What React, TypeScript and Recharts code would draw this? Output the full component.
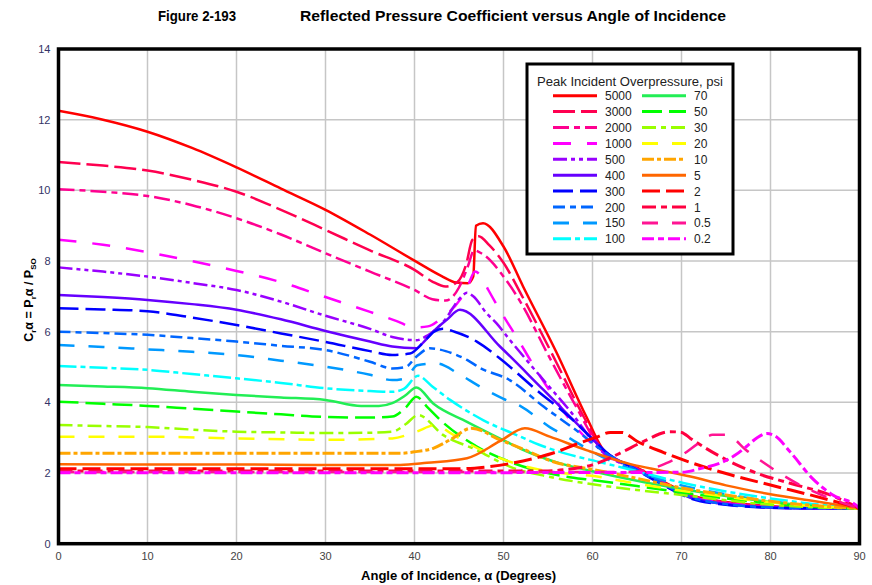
import React from 'react';
import { LineChart, Line, XAxis, YAxis, CartesianGrid } from 'recharts';

// angle of incidence (deg) / reflected pressure coefficient pairs
const X_TICKS = [0, 10, 20, 30, 40, 50, 60, 70, 80, 90];
const Y_TICKS = [0, 2, 4, 6, 8, 10, 12, 14];

const p5000 = [[0, 12.25], [5, 12.0], [10, 11.66], [15, 11.2], [20, 10.65], [25, 10.05], [30, 9.45], [35, 8.75], [40, 8.01], [43, 7.58], [44.7, 7.39], [46, 7.37], [46.6, 7.56], [46.9, 9.0], [47.7, 9.07], [50, 8.41], [52.2, 7.28], [56, 5.39], [59.3, 3.6], [61.4, 2.6], [65, 2.15], [68, 1.75], [71, 1.38], [75, 1.18], [80, 1.06], [85, 1.01], [90, 1.0]];
const p3000 = [[0, 10.8], [5, 10.7], [10, 10.56], [15, 10.3], [20, 9.96], [25, 9.45], [30, 8.88], [35, 8.3], [40, 7.75], [42, 7.42], [43.5, 7.28], [44.8, 7.4], [45.8, 7.9], [46.5, 8.6], [47.2, 8.7], [48.4, 8.45], [50, 7.95], [52, 7.05], [56, 5.1], [59, 3.6], [61.3, 2.6], [65, 2.13], [68, 1.73], [71, 1.36], [75, 1.17], [80, 1.05], [85, 1.01], [90, 1.0]];
const p2000 = [[0, 10.03], [5, 9.96], [10, 9.84], [15, 9.58], [20, 9.21], [25, 8.75], [30, 8.22], [35, 7.7], [40, 7.18], [42, 6.92], [43.5, 6.88], [45, 7.25], [46, 7.85], [46.7, 8.3], [47.5, 8.22], [50.3, 7.46], [52, 6.8], [55, 5.35], [58, 3.95], [61.2, 2.6], [65, 2.12], [68, 1.72], [71, 1.35], [75, 1.16], [80, 1.05], [85, 1.0], [90, 1.0]];
const p1000 = [[0, 8.6], [5, 8.46], [10, 8.25], [15, 8.0], [20, 7.72], [25, 7.4], [30, 6.98], [35, 6.56], [38, 6.3], [40, 6.12], [41.5, 6.15], [43.2, 6.42], [45.1, 6.9], [46, 7.3], [46.8, 7.7], [47.4, 7.6], [48.3, 7.18], [49.6, 6.61], [51.9, 5.67], [53, 5.2], [55, 4.4], [57.8, 3.4], [61, 2.6], [65, 2.1], [68, 1.7], [71, 1.34], [75, 1.15], [80, 1.04], [85, 1.0], [90, 1.0]];
const p500 = [[0, 7.82], [5, 7.7], [10, 7.56], [15, 7.38], [20, 7.18], [25, 6.85], [30, 6.45], [35, 6.08], [37.5, 5.85], [40.2, 5.76], [41.5, 5.9], [43.3, 6.3], [45.3, 7.0], [45.9, 7.1], [46.6, 7.0], [48.1, 6.52], [49.2, 6.24], [50.7, 5.77], [54.5, 4.63], [57.5, 3.75], [61, 2.62], [65, 2.08], [68, 1.68], [71, 1.32], [75, 1.13], [80, 1.03], [85, 1.0], [90, 1.0]];
const p400 = [[0, 7.04], [5, 6.98], [10, 6.9], [15, 6.78], [20, 6.62], [25, 6.35], [30, 6.02], [35, 5.72], [37.5, 5.58], [40.2, 5.53], [41, 5.7], [42.1, 6.0], [43.6, 6.33], [45.1, 6.62], [49.6, 5.58], [54.5, 4.35], [60.5, 2.84], [61.5, 2.6], [65, 2.1], [68, 1.68], [71, 1.3], [75, 1.12], [80, 1.02], [85, 1.0], [90, 1.0]];
const p300 = [[0, 6.66], [5, 6.63], [10, 6.58], [15, 6.4], [20, 6.19], [25, 5.95], [30, 5.71], [35, 5.45], [37.5, 5.34], [39.5, 5.38], [41, 5.7], [42.2, 6.0], [43.2, 6.08], [44.5, 6.0], [47, 5.72], [49.6, 5.24], [53.7, 4.35], [57.8, 3.5], [60.5, 2.84], [61.5, 2.6], [65, 2.08], [68, 1.65], [71, 1.28], [75, 1.1], [80, 1.02], [85, 1.0], [90, 1.0]];
const p200 = [[0, 6.0], [5, 5.96], [10, 5.91], [15, 5.82], [20, 5.72], [25, 5.6], [30, 5.48], [35, 5.15], [37.5, 4.96], [39, 5.0], [40.2, 5.29], [41.7, 5.53], [43.5, 5.45], [45.9, 5.2], [47.4, 4.97], [50.7, 4.63], [54.5, 3.88], [58.6, 3.13], [61.3, 2.6], [65, 2.08], [68, 1.68], [71, 1.32], [75, 1.12], [80, 1.03], [85, 1.0], [90, 1.0]];
const p150 = [[0, 5.62], [5, 5.57], [10, 5.5], [15, 5.43], [20, 5.34], [25, 5.18], [30, 5.01], [35, 4.78], [37.5, 4.63], [39, 4.68], [40.3, 5.05], [42.5, 5.1], [45, 4.8], [47.4, 4.44], [50, 4.1], [52, 3.88], [55.2, 3.3], [57.4, 2.99], [60, 2.6], [62, 2.35], [65, 2.05], [70, 1.65], [75, 1.4], [80, 1.2], [85, 1.08], [90, 1.0]];
const p100 = [[0, 5.03], [5, 4.98], [10, 4.92], [15, 4.8], [20, 4.68], [25, 4.55], [30, 4.4], [35, 4.32], [37.5, 4.3], [38.8, 4.38], [40.4, 4.75], [42, 4.45], [44, 4.07], [47.7, 3.5], [51.9, 3.03], [54, 2.8], [57, 2.55], [61, 2.3], [65, 2.05], [70.2, 1.72], [75, 1.48], [80, 1.28], [85, 1.12], [90, 1.0]];
const p70 = [[0, 4.49], [5, 4.45], [10, 4.4], [15, 4.3], [20, 4.21], [25, 4.14], [30, 4.07], [34, 3.9], [36, 3.9], [37.5, 3.98], [39, 4.2], [40.2, 4.42], [42.1, 3.97], [45.9, 3.45], [50.7, 2.84], [52, 2.68], [56, 2.3], [60, 2.05], [65, 1.78], [70, 1.55], [75, 1.35], [80, 1.18], [85, 1.07], [90, 1.0]];
const p50 = [[0, 4.02], [5, 3.96], [10, 3.9], [15, 3.82], [20, 3.74], [25, 3.66], [30, 3.59], [35, 3.57], [37.5, 3.6], [39, 3.85], [40.2, 4.16], [41.5, 3.85], [42.9, 3.5], [47, 2.75], [51.1, 2.28], [57, 1.9], [60, 1.8], [65, 1.63], [70, 1.45], [75, 1.28], [80, 1.13], [85, 1.04], [90, 1.0]];
const p30 = [[0, 3.36], [5, 3.33], [10, 3.3], [15, 3.23], [20, 3.17], [25, 3.15], [30, 3.13], [35, 3.14], [37.5, 3.17], [39, 3.38], [40.4, 3.64], [43.2, 3.08], [47, 2.65], [50.7, 2.18], [55, 1.9], [59.3, 1.71], [65, 1.52], [70, 1.38], [75, 1.23], [80, 1.1], [85, 1.03], [90, 1.0]];
const p20 = [[0, 3.03], [10, 3.03], [20, 2.98], [30, 2.94], [37.5, 2.98], [40.2, 3.17], [42.4, 3.36], [44.1, 3.12], [47.5, 2.65], [51.2, 2.28], [55, 2.05], [60.5, 1.9], [65, 1.7], [70, 1.5], [75, 1.33], [80, 1.17], [85, 1.06], [90, 1.0]];
const p10 = [[0, 2.56], [10, 2.56], [20, 2.56], [30, 2.56], [38.4, 2.56], [40, 2.6], [42.1, 2.7], [44, 2.94], [46.4, 3.27], [49.6, 2.94], [52, 2.7], [55.6, 2.32], [60, 2.1], [65, 1.85], [70.2, 1.57], [75, 1.38], [80, 1.2], [85, 1.08], [90, 1.0]];
const p5 = [[0, 2.25], [10, 2.24], [20, 2.24], [30, 2.23], [38.4, 2.23], [41.4, 2.29], [45.9, 2.42], [49.6, 2.9], [52.4, 3.27], [55.2, 3.03], [59.3, 2.65], [64.6, 2.23], [67.5, 2.08], [71, 1.9], [75, 1.65], [80, 1.4], [85, 1.2], [90, 1.0]];
const p2 = [[0, 2.12], [20, 2.12], [40, 2.12], [45, 2.12], [48, 2.17], [51, 2.28], [54, 2.45], [56, 2.6], [58, 2.8], [60.5, 3.02], [62, 3.15], [63.3, 3.15], [65, 2.9], [68, 2.58], [71, 2.3], [75.5, 1.95], [80, 1.66], [86, 1.28], [90, 1.0]];
const p1 = [[0, 2.06], [20, 2.06], [40, 2.06], [55, 2.06], [57, 2.1], [60, 2.23], [63, 2.55], [65.7, 2.89], [68.7, 3.17], [70, 3.15], [71, 2.98], [74.7, 2.42], [78.4, 2.0], [82.2, 1.71], [86.7, 1.38], [90, 1.0]];
const p05 = [[0, 2.03], [20, 2.03], [40, 2.03], [64, 2.03], [66, 2.08], [68.3, 2.28], [70, 2.5], [71.9, 2.84], [73.5, 3.08], [75, 3.08], [77.4, 2.62], [81.2, 1.97], [83.4, 1.65], [86.5, 1.3], [90, 1.0]];
const p02 = [[0, 2.01], [20, 2.01], [40, 2.01], [70, 2.02], [72, 2.12], [74.5, 2.3], [76, 2.5], [77.3, 2.75], [78.5, 3.0], [79.6, 3.12], [80.5, 3.05], [82.2, 2.6], [84.7, 1.85], [87, 1.38], [89.8, 1.05], [90, 1.0]];

const SERIES = [
  { name: '5000', pts: p5000, color: '#ff0000', dash: undefined, w: 2.5 },
  { name: '3000', pts: p3000, color: '#ff0050', dash: '22 6', w: 2.5 },
  { name: '2000', pts: p2000, color: '#ff0090', dash: '16 5 6 5', w: 2.5 },
  { name: '1000', pts: p1000, color: '#ff00ff', dash: '18 16', w: 2.5 },
  { name: '500', pts: p500, color: '#9900ff', dash: '14 4 4 4 4 4', w: 2.5 },
  { name: '400', pts: p400, color: '#6600ff', dash: undefined, w: 2.5 },
  { name: '300', pts: p300, color: '#0000ff', dash: '20 7', w: 2.5 },
  { name: '200', pts: p200, color: '#0066ff', dash: '12 5 6 5', w: 2.5 },
  { name: '150', pts: p150, color: '#0099ff', dash: '16 14', w: 2.5 },
  { name: '100', pts: p100, color: '#00ffff', dash: '18 4 5 4', w: 2.5 },
  { name: '70', pts: p70, color: '#22ee55', dash: undefined, w: 2.5 },
  { name: '50', pts: p50, color: '#00ff00', dash: '20 7', w: 2.5 },
  { name: '30', pts: p30, color: '#99ff00', dash: '14 5 5 5', w: 2.5 },
  { name: '20', pts: p20, color: '#ffff00', dash: '16 14', w: 2.5 },
  { name: '10', pts: p10, color: '#ffa500', dash: '12 3 4 3', w: 3 },
  { name: '5', pts: p5, color: '#ff6600', dash: undefined, w: 2.5 },
  { name: '2', pts: p2, color: '#ff0000', dash: '18 6', w: 3 },
  { name: '1', pts: p1, color: '#ff0040', dash: '14 5 6 5', w: 3 },
  { name: '0.5', pts: p05, color: '#ff1493', dash: '16 14', w: 2.5 },
  { name: '0.2', pts: p02, color: '#ff00ff', dash: '12 4 6 4', w: 3 },
];

const NARROW = '"Liberation Sans Narrow", "Arial Narrow", "Liberation Sans", Arial, sans-serif';
const SANS = '"Liberation Sans", Arial, sans-serif';

const Overlay = () => (
  <svg width={872} height={585} style={{ position: 'absolute', left: 0, top: 0, pointerEvents: 'none' }}>
    <text x={158} y={21} fontFamily={SANS} fontWeight="bold" fontSize={14.5} textLength={78} lengthAdjust="spacingAndGlyphs">Figure 2-193</text>
    <text x={300} y={21} fontFamily={SANS} fontWeight="bold" fontSize={14.5} textLength={426} lengthAdjust="spacingAndGlyphs">Reflected Pressure Coefficient versus Angle of Incidence</text>
    <rect x={58.5} y={49} width={801} height={494.7} fill="none" stroke="#000" strokeWidth={3.5} />
    <text x={361} y={580} fontFamily={SANS} fontWeight="bold" fontSize={12.5} textLength={195} lengthAdjust="spacingAndGlyphs">Angle of Incidence, α (Degrees)</text>
    <text transform="translate(33,300) rotate(-90)" textAnchor="middle" fontFamily={SANS} fontWeight="bold" fontSize={12.5}>
      C<tspan fontSize={8} dy={3}>r</tspan><tspan dy={-3}>α = P</tspan><tspan fontSize={8} dy={3}>r</tspan><tspan dy={-3}>α / P</tspan><tspan fontSize={8} dy={3}>SO</tspan>
    </text>
    <rect x={527} y={64} width={206} height={190} fill="#fff" stroke="#000" strokeWidth={3} />
    <text x={630} y={86} textAnchor="middle" fontFamily={SANS} fontSize={12} fill="#222" textLength={186} lengthAdjust="spacingAndGlyphs">Peak Incident Overpressure, psi</text>
    {SERIES.map((s, i) => {
      const col = i < 10 ? 0 : 1;
      const row = i % 10;
      const y = 95.7 + row * 15.9;
      const x0 = col === 0 ? 553 : 642;
      return (
        <g key={s.name}>
          <line x1={x0} x2={x0 + 44} y1={y} y2={y} stroke={s.color} strokeWidth={3} strokeDasharray={s.dash} />
          <text x={x0 + 52} y={y + 4.5} fontFamily={SANS} fontSize={12} fill="#222">{s.name}</text>
        </g>
      );
    })}
  </svg>
);

export default function App() {
  return (
    <div style={{ position: 'absolute', left: 0, top: 0, width: 872, height: 585, background: '#fff' }}>
      <LineChart width={872} height={585} margin={{ top: 49, right: 12.5, bottom: 20, left: 18.5 }}>
        <CartesianGrid stroke="#c6c6c6" strokeWidth={1.5} />
        <XAxis
          dataKey="a"
          type="number"
          domain={[0, 90]}
          ticks={X_TICKS}
          height={21.3}
          axisLine={false}
          tickLine={false}
          tick={{ fill: '#444', fontSize: 11, fontFamily: NARROW }}
          allowDataOverflow
        />
        <YAxis
          type="number"
          domain={[0, 14]}
          ticks={Y_TICKS}
          width={40}
          axisLine={false}
          tickLine={false}
          tick={{ fill: '#333366', fontSize: 11, fontFamily: NARROW }}
          allowDataOverflow
        />
        {SERIES.map((s) => (
          <Line
            key={s.name}
            data={s.pts.map(([a, v]) => ({ a, v }))}
            dataKey="v"
            type="monotone"
            stroke={s.color}
            strokeWidth={s.w}
            strokeDasharray={s.dash}
            dot={false}
            activeDot={false}
            isAnimationActive={false}
          />
        ))}
      </LineChart>
      <Overlay />
    </div>
  );
}
